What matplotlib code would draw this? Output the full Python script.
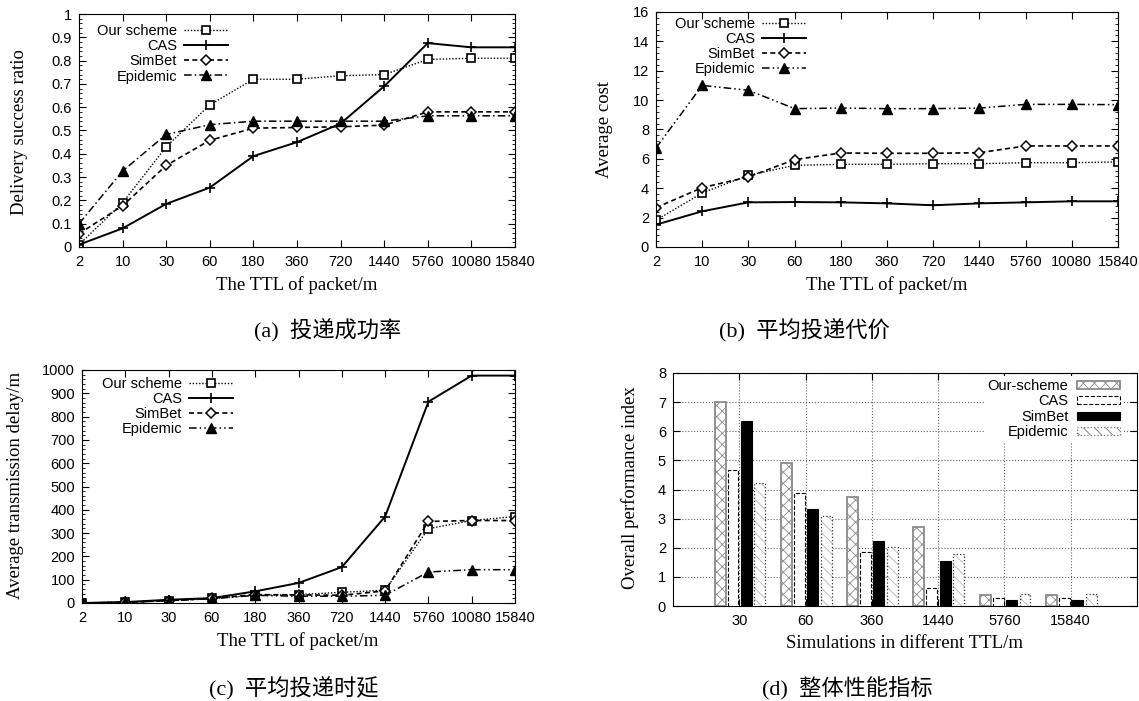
import numpy as np
import matplotlib
matplotlib.use("Agg")
import matplotlib.pyplot as plt
from matplotlib.ticker import AutoMinorLocator, FuncFormatter, MultipleLocator

# ================================
# 1. Data
# ================================
ttl = ['2', '10', '30', '60', '180', '360', '720', '1440', '5760', '10080', '15840']
schemes = ['Our scheme', 'CAS', 'SimBet', 'Epidemic']

# (a) delivery success ratio
ratio_ours = [0.01, 0.19, 0.43, 0.61, 0.72, 0.72, 0.735, 0.74, 0.805, 0.81, 0.81]
ratio_cas = [0.01, 0.08, 0.185, 0.255, 0.39, 0.45, 0.53, 0.69, 0.875, 0.857, 0.857]
ratio_simbet = [0.057, 0.177, 0.35, 0.458, 0.51, 0.513, 0.516, 0.523, 0.58, 0.58, 0.58]
ratio_epidemic = [0.10, 0.326, 0.483, 0.525, 0.54, 0.54, 0.54, 0.54, 0.563, 0.563, 0.563]

# (b) average cost
cost_ours = [1.82, 3.68, 4.88, 5.56, 5.63, 5.63, 5.67, 5.67, 5.74, 5.74, 5.79]
cost_cas = [1.52, 2.43, 3.04, 3.06, 3.04, 2.97, 2.84, 2.97, 3.04, 3.11, 3.11]
cost_simbet = [2.68, 4.04, 4.77, 5.95, 6.40, 6.38, 6.38, 6.42, 6.88, 6.88, 6.88]
cost_epidemic = [6.74, 11.0, 10.67, 9.42, 9.46, 9.42, 9.42, 9.46, 9.71, 9.71, 9.69]

# (c) average transmission delay
delay_ours = [0, 3, 10, 20, 33, 36, 46, 55, 319, 354, 371]
delay_cas = [0, 4, 14, 21, 50, 86, 154, 371, 864, 976, 976]
delay_simbet = [0, 3, 10, 20, 36, 35, 33, 52, 350, 354, 354]
delay_epidemic = [0, 3, 10, 18, 33, 29, 29, 33, 133, 143, 143]

# (d) overall performance index
bar_ttl = ['30', '60', '360', '1440', '5760', '15840']
bar_labels = ['Our-scheme', 'CAS', 'SimBet', 'Epidemic']
perf_ours = [7.0, 4.9, 3.73, 2.7, 0.39, 0.39]
perf_cas = [4.67, 3.87, 1.84, 0.63, 0.29, 0.29]
perf_simbet = [6.34, 3.33, 2.24, 1.54, 0.22, 0.22]
perf_epidemic = [4.21, 3.08, 2.02, 1.80, 0.41, 0.41]

# ================================
# 2. Figure setup
# ================================
plt.rcParams['font.family'] = ['Liberation Sans', 'DejaVu Sans']
plt.rcParams['font.size'] = 10.5
plt.rcParams['hatch.linewidth'] = 0.6
plt.rcParams['axes.linewidth'] = 0.8

W, H = 1139, 701
fig = plt.figure(figsize=(W / 100, H / 100), dpi=100)


def px_axes(left, top, right, bottom):
    return fig.add_axes([left / W, 1 - bottom / H, (right - left) / W, (bottom - top) / H])


serif = ['Liberation Serif', 'DejaVu Serif']
cap_font = ['Liberation Serif', 'Noto Sans CJK SC', 'DejaVu Sans']


def line_panel(ax, data, ymax, ystep, epi_dash, leg_anchor):
    x = np.arange(len(ttl))
    styles = [
        dict(ls=(0, (1, 1.3)), lw=1.0, marker='s', ms=6, mfc='white', mew=1.2),
        dict(ls='-', lw=1.4, marker='+', ms=7, mew=1.2),
        dict(ls=(0, (3, 2)), lw=1.2, marker='D', ms=5, mfc='white', mew=1.1),
        dict(ls=epi_dash, lw=1.1, marker='^', ms=6.5, mfc='black'),
    ]
    for name, y, st in zip(schemes, data, styles):
        ax.plot(x, y, color='black', mec='black', label=name, **st)
    ax.set_xlim(0, len(ttl) - 1)
    ax.set_xticks(x, ttl)
    ax.set_ylim(0, ymax)
    ax.yaxis.set_major_locator(MultipleLocator(ystep))
    ax.yaxis.set_minor_locator(AutoMinorLocator(5))
    ax.yaxis.set_major_formatter(FuncFormatter(lambda v, p: f'{v:g}'))
    ax.tick_params(direction='in', top=True, right=True, length=5, width=0.8,
                   labelsize=10.5)
    ax.tick_params(axis='x', pad=6)
    ax.tick_params(axis='y', pad=5)
    ax.tick_params(which='minor', direction='in', right=True, length=2.5, width=0.6)
    ax.legend(loc='upper left', bbox_to_anchor=leg_anchor, frameon=False,
              markerfirst=False, handlelength=3, handletextpad=0.5,
              labelspacing=0.08, borderpad=0, borderaxespad=0, fontsize=10.5)


dashdot = (0, (5, 2, 1, 2))
dashdotdot = (0, (5, 2, 1, 2, 1, 2))

ax_a = px_axes(79, 14, 515, 247)
line_panel(ax_a, [ratio_ours, ratio_cas, ratio_simbet, ratio_epidemic], 1, 0.1, dashdot, (0.041, 0.957))

ax_b = px_axes(656, 12, 1118, 247)
line_panel(ax_b, [cost_ours, cost_cas, cost_simbet, cost_epidemic], 16, 2, dashdotdot, (0.041, 0.979))

ax_c = px_axes(82, 370, 515, 603)
line_panel(ax_c, [delay_ours, delay_cas, delay_simbet, delay_epidemic], 1000, 100, dashdotdot, (0.046, 0.97))

# ================================
# 3. Bar chart (d)
# ================================
ax_d = px_axes(673, 373, 1137, 606)
xb = np.arange(len(bar_ttl))
bw = 0.165
offsets = [-0.29, -0.095, 0.105, 0.31]
ax_d.bar(xb + offsets[0], perf_ours, bw, color='white', edgecolor='#8a8a8a',
         hatch='xxx', lw=1.3, label=bar_labels[0], zorder=3)
ax_d.bar(xb + offsets[1], perf_cas, bw, color='white', edgecolor='black',
         ls='--', lw=0.8, label=bar_labels[1], zorder=3)
ax_d.bar(xb + offsets[2], perf_simbet, bw, color='black', edgecolor='black',
         lw=0.8, label=bar_labels[2], zorder=3)
ax_d.bar(xb + offsets[3], perf_epidemic, bw, color='white', edgecolor='#b5b5b5',
         hatch='\\\\\\', lw=0, zorder=3)
ax_d.bar(xb + offsets[3], perf_epidemic, bw, color='none', edgecolor='#333333',
         ls=':', lw=0.9, zorder=4)
# legend entry for Epidemic
ax_d.bar([0], [0], 0, color='white', edgecolor='#777777', hatch='\\\\\\', ls=':',
         lw=0.9, label=bar_labels[3])

ax_d.set_xlim(-1, 6)
ax_d.set_xticks(xb, bar_ttl)
ax_d.set_ylim(0, 8)
ax_d.yaxis.set_major_locator(MultipleLocator(1))
ax_d.set_axisbelow(True)
ax_d.grid(True, ls=':', lw=0.8, color='#666666')
ax_d.tick_params(direction='in', top=True, right=True, length=5, width=0.8,
                 labelsize=10.5)
ax_d.tick_params(axis='x', pad=6)
ax_d.tick_params(axis='y', pad=5)
leg = ax_d.legend(loc='upper right', bbox_to_anchor=(0.970, 0.987), frameon=True,
                  facecolor='white', edgecolor='none', framealpha=1, fancybox=False,
                  markerfirst=False, handlelength=2.95, handleheight=0.48,
                  handletextpad=0.6, labelspacing=0.1, borderpad=0.2,
                  borderaxespad=0, fontsize=10.5)
leg.set_zorder(10)

# ================================
# 4. Axis labels and captions
# ================================
lab = dict(family=serif, fontsize=13.5, ha='center', va='center')
fig.text(20 / W, 1 - 132 / H, 'Delivery success ratio', rotation=90, **lab)
fig.text(604 / W, 1 - 130 / H, 'Average cost', rotation=90, **lab)
fig.text(16 / W, 1 - 485 / H, 'Average transmission delay/m', rotation=90, **lab)
fig.text(630 / W, 1 - 488 / H, 'Overall performance index', rotation=90, **lab)

fig.text(297 / W, 1 - 285 / H, 'The TTL of packet/m', **lab)
fig.text(887 / W, 1 - 285 / H, 'The TTL of packet/m', **lab)
fig.text(298 / W, 1 - 641 / H, 'The TTL of packet/m', **lab)
fig.text(905 / W, 1 - 643 / H, 'Simulations in different TTL/m', **lab)

cap = dict(family=cap_font, fontsize=16, ha='center', va='center')
fig.text(328 / W, 1 - 331 / H, '(a)  投递成功率', **cap)
fig.text(804 / W, 1 - 331 / H, '(b)  平均投递代价', **cap)
fig.text(294 / W, 1 - 689 / H, '(c)  平均投递时延', **cap)
fig.text(847 / W, 1 - 689 / H, '(d)  整体性能指标', **cap)

fig.savefig('out.png', dpi=100)
